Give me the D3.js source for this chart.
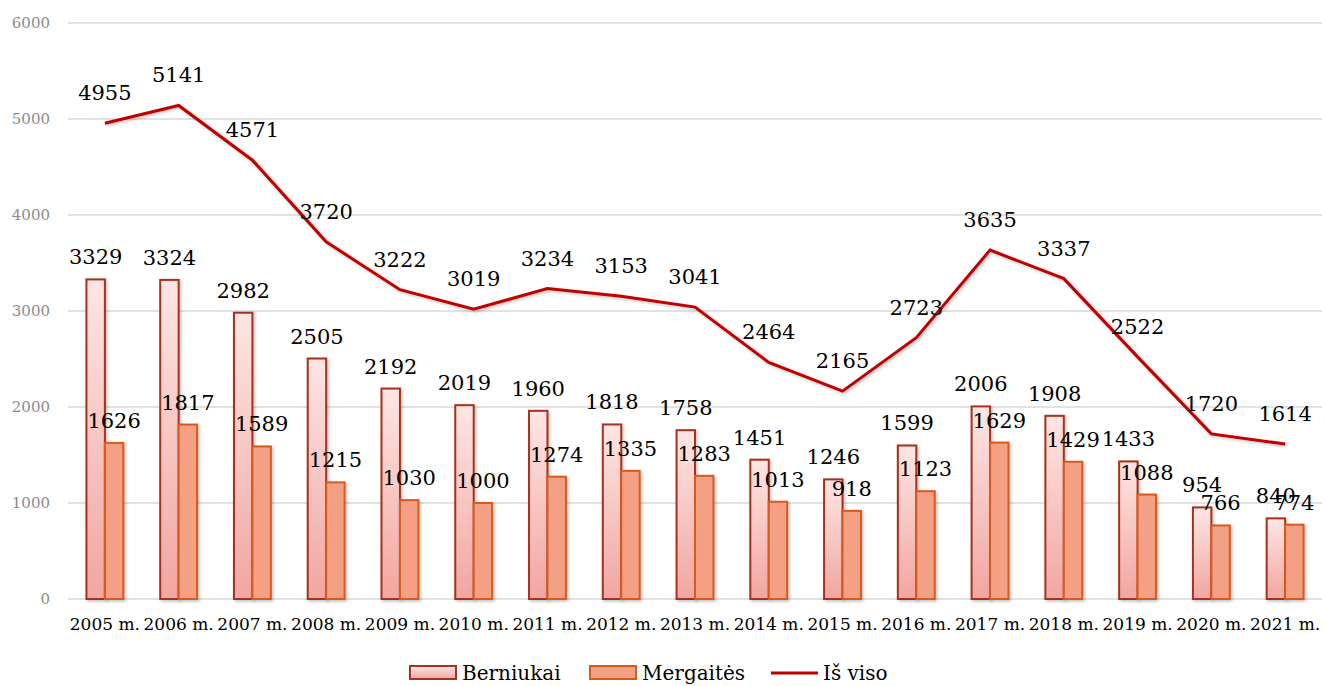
<!DOCTYPE html>
<html lang="lt">
<head>
<meta charset="utf-8">
<script src="https://cdn.jsdelivr.net/npm/d3@7"></script>
<style>
    body { margin: 0; background: #fff; }
    svg { display: block; font-family: "DejaVu Serif", serif; }
</style>
</head>
<body>
<div id="chart"></div>
<script>
// Duomenys
const metai = ["2005 m.", "2006 m.", "2007 m.", "2008 m.", "2009 m.", "2010 m.", "2011 m.", "2012 m.", "2013 m.",
    "2014 m.", "2015 m.", "2016 m.", "2017 m.", "2018 m.", "2019 m.", "2020 m.", "2021 m."];
const berniukai = [3329, 3324, 2982, 2505, 2192, 2019, 1960, 1818, 1758, 1451, 1246, 1599, 2006, 1908, 1433, 954, 840];
const mergaites = [1626, 1817, 1589, 1215, 1030, 1000, 1274, 1335, 1283, 1013, 918, 1123, 1629, 1429, 1088, 766, 774];
const isViso = [4955, 5141, 4571, 3720, 3222, 3019, 3234, 3153, 3041, 2464, 2165, 2723, 3635, 3337, 2522, 1720, 1614];
const yTicks = [0, 1000, 2000, 3000, 4000, 5000, 6000];

const width = 1326, height = 686;
const margin = {top: 23, right: 4, bottom: 87, left: 68};

const svg = d3.select("#chart").append("svg")
    .attr("width", width)
    .attr("height", height);

const defs = svg.append("defs");

// gradientas berniuku stulpeliams
const grad = defs.append("linearGradient")
    .attr("id", "gradB")
    .attr("x1", 0).attr("y1", 0).attr("x2", 0).attr("y2", 1);
grad.append("stop").attr("offset", "0%").attr("stop-color", "#fde6e4");
grad.append("stop").attr("offset", "100%").attr("stop-color", "#f1a6a1");

// seselis
const shadow = defs.append("filter")
    .attr("id", "shadow")
    .attr("x", "-20%").attr("y", "-20%").attr("width", "150%").attr("height", "150%");
shadow.append("feDropShadow")
    .attr("dx", 1.5).attr("dy", 1.5).attr("stdDeviation", 1.5)
    .attr("flood-color", "#000").attr("flood-opacity", 0.25);

const x = d3.scaleBand()
    .domain(metai)
    .range([margin.left, width - margin.right])
    .paddingInner(0)
    .paddingOuter(0);

const xSub = d3.scaleBand()
    .domain(["B", "M"])
    .range([x.bandwidth() * 0.25, x.bandwidth() * 0.75]);

const y = d3.scaleLinear()
    .domain([0, 6000])
    .range([height - margin.bottom, margin.top]);

// tinklelis
svg.append("g")
    .selectAll("line")
    .data(yTicks)
    .join("line")
    .attr("x1", margin.left)
    .attr("x2", width - margin.right)
    .attr("y1", d => y(d))
    .attr("y2", d => y(d))
    .attr("stroke", "#d9d9d9")
    .attr("stroke-width", 1.5);

// Y asis
const yAxis = d3.axisLeft(y).tickValues(yTicks).tickFormat(d3.format("d")).tickSize(0).tickPadding(0);
svg.append("g")
    .attr("transform", "translate(50,0)")
    .call(yAxis)
    .call(g => g.select(".domain").remove())
    .selectAll("text")
    .attr("fill", "#8c8c8c")
    .style("font-family", "DejaVu Serif, serif")
    .style("font-size", "15px");

// X asis
const xAxis = d3.axisBottom(x).tickSize(0).tickPadding(0);
svg.append("g")
    .attr("transform", "translate(0," + (height - margin.bottom) + ")")
    .call(xAxis)
    .call(g => g.select(".domain").remove())
    .selectAll("text")
    .attr("dy", null)
    .attr("y", 31)
    .attr("fill", "#000")
    .style("font-family", "DejaVu Serif, serif")
    .style("font-size", "17px");

// stulpeliai
const groups = svg.append("g")
    .selectAll("g")
    .data(metai)
    .join("g")
    .attr("transform", d => "translate(" + x(d) + ",0)");

groups.append("rect")
    .attr("x", xSub("B"))
    .attr("width", xSub.bandwidth())
    .attr("y", (d, i) => y(berniukai[i]))
    .attr("height", (d, i) => y(0) - y(berniukai[i]))
    .attr("fill", "url(#gradB)")
    .attr("stroke", "#a5321a")
    .attr("stroke-width", 2)
    .attr("filter", "url(#shadow)");

groups.append("rect")
    .attr("x", xSub("M"))
    .attr("width", xSub.bandwidth())
    .attr("y", (d, i) => y(mergaites[i]))
    .attr("height", (d, i) => y(0) - y(mergaites[i]))
    .attr("fill", "#f4a084")
    .attr("stroke", "#d85a1d")
    .attr("stroke-width", 2)
    .attr("filter", "url(#shadow)");

// linija "Iš viso"
const line = d3.line()
    .x((d, i) => x(metai[i]) + x.bandwidth() / 2)
    .y(d => y(d));

svg.append("path")
    .datum(isViso)
    .attr("d", line)
    .attr("fill", "none")
    .attr("stroke", "#c00000")
    .attr("stroke-width", 3)
    .attr("filter", "url(#shadow)");

// reiksmiu etiketes
const labels = svg.append("g")
    .style("font-size", "21px")
    .attr("text-anchor", "middle")
    .attr("fill", "#000");

labels.selectAll("text.b")
    .data(berniukai)
    .join("text")
    .attr("class", "b")
    .attr("x", (d, i) => x(metai[i]) + xSub("B") + xSub.bandwidth() / 2)
    .attr("y", d => y(d) - 15)
    .text(d => d);

labels.selectAll("text.m")
    .data(mergaites)
    .join("text")
    .attr("class", "m")
    .attr("x", (d, i) => x(metai[i]) + xSub("M") + xSub.bandwidth() / 2)
    .attr("y", d => y(d) - 15)
    .text(d => d);

labels.selectAll("text.v")
    .data(isViso)
    .join("text")
    .attr("class", "v")
    .attr("x", (d, i) => x(metai[i]) + x.bandwidth() / 2)
    .attr("y", d => y(d) - 23)
    .text(d => d);

// legenda
const legend = svg.append("g")
    .attr("transform", "translate(0,673)")
    .style("font-size", "20px");

legend.append("rect")
    .attr("x", 410).attr("y", -7).attr("width", 46).attr("height", 13)
    .attr("fill", "url(#gradB)").attr("stroke", "#a5321a").attr("stroke-width", 2);
legend.append("text").attr("x", 462).attr("y", 7).text("Berniukai");

legend.append("rect")
    .attr("x", 590).attr("y", -7).attr("width", 46).attr("height", 13)
    .attr("fill", "#f4a084").attr("stroke", "#d85a1d").attr("stroke-width", 2);
legend.append("text").attr("x", 642).attr("y", 7).text("Mergaitės");

legend.append("line")
    .attr("x1", 771).attr("x2", 818).attr("y1", 0).attr("y2", 0)
    .attr("stroke", "#c00000").attr("stroke-width", 3);
legend.append("text").attr("x", 823).attr("y", 7).text("Iš viso");
</script>
</body>
</html>
